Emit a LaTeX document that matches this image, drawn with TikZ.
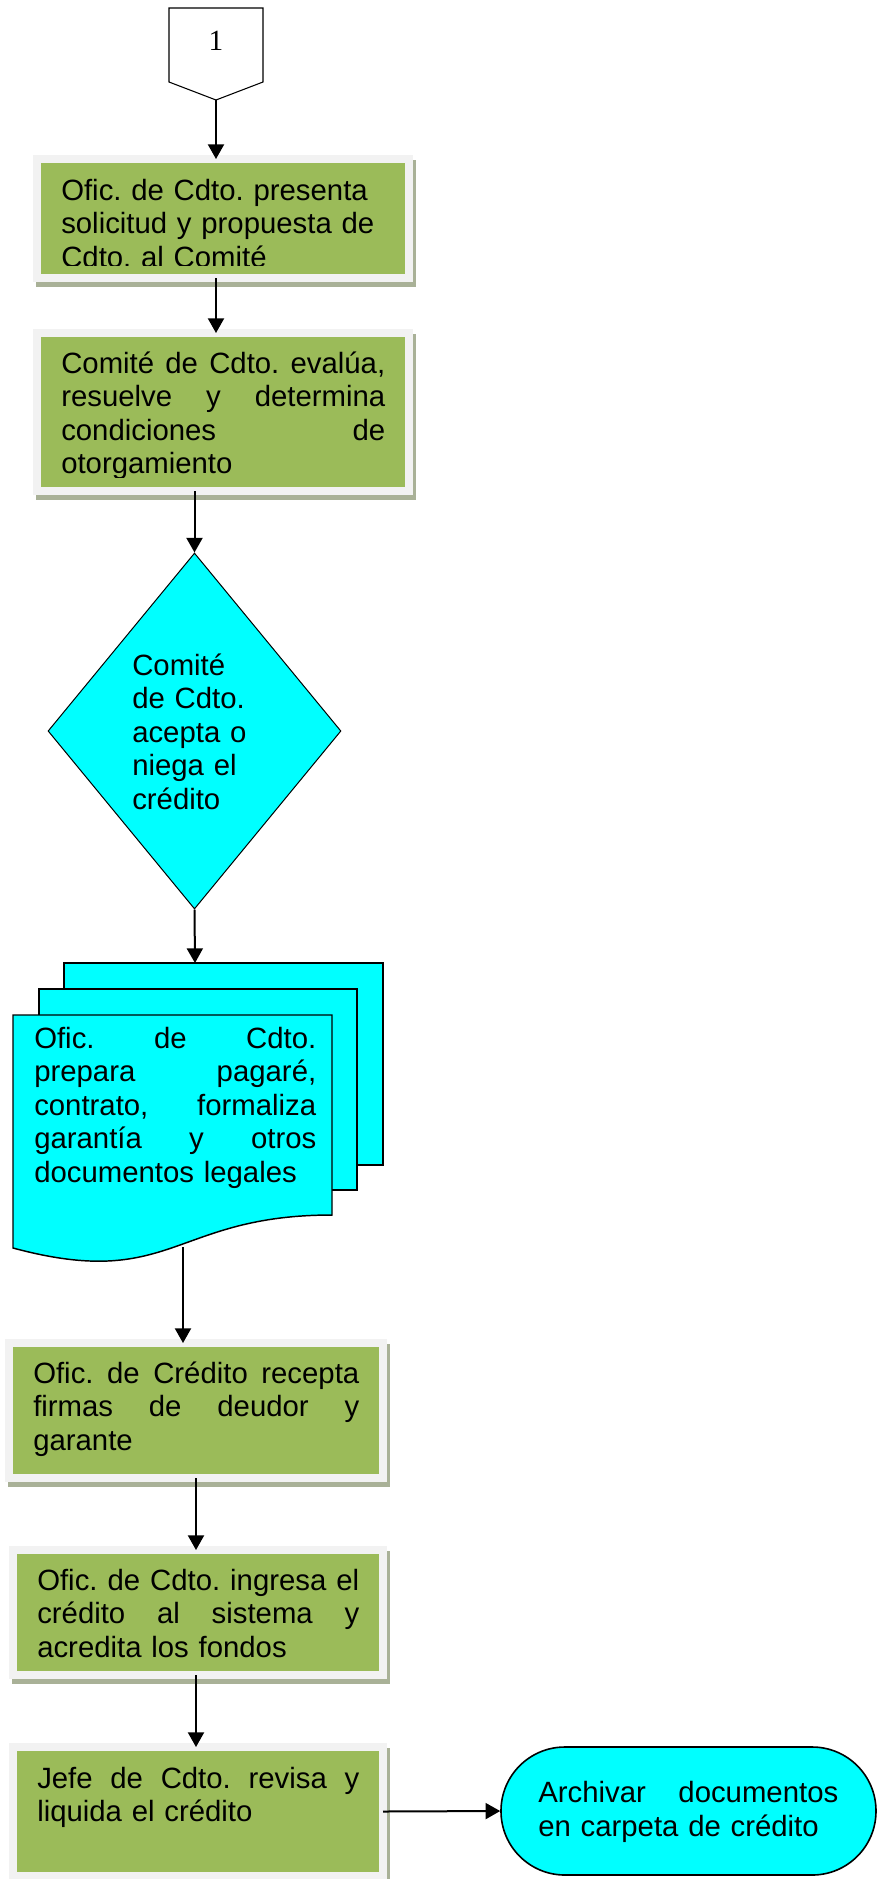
\documentclass[tikz,border=0pt]{standalone}
\usepackage{fontspec}
\setmainfont{Liberation Sans}
\newfontfamily\numfont{Liberation Serif}
\usetikzlibrary{arrows.meta,shapes.geometric,backgrounds,calc}
\definecolor{boxgreen}{HTML}{9BBB59}
\definecolor{boxframe}{HTML}{F2F2F2}
\definecolor{boxshadow}{HTML}{A9B197}
\definecolor{cyanfill}{HTML}{00FFFF}
\newcommand\jsp{\hfill}
\frenchspacing
\begin{document}
\begin{tikzpicture}[x=0.75pt,y=-0.75pt,
  font=\fontsize{22pt}{25.2pt}\selectfont\frenchspacing,
  procbox/.style={rectangle, fill=boxgreen, draw=boxframe, line width=6pt, inner sep=0pt, outer sep=0pt},
  txt/.style={anchor=base west, inner sep=0pt},
  arr/.style={line width=1.5pt, -{Triangle[length=11pt,width=12pt]}},
  docpage/.style={fill=cyanfill, draw=black, line width=1.1pt, line join=miter}]
\useasboundingbox (0,0) rectangle (881,1879);

% off-page connector
\draw[line width=0.8pt, fill=white] (169,8) -- (263,8) -- (263,82) -- (216,100) -- (169,82) -- cycle;
\coordinate (conn) at (216,100);
\node[inner sep=0pt, anchor=base, font=\numfont\fontsize{22pt}{25pt}\selectfont] (connlabel) at (216,50) {1};

% process boxes
\node[procbox, minimum width=279pt, minimum height=89.25pt] (b1) at (223,218.5) {};
\node[procbox, minimum width=279pt, minimum height=118.5pt] (b2) at (223,412) {};
\node[procbox, minimum width=280.5pt, minimum height=101.25pt] (b3) at (196,1410.5) {};
\node[procbox, minimum width=277.5pt, minimum height=93.75pt] (b4) at (198,1612.5) {};
\node[procbox, minimum width=277.5pt, minimum height=96.75pt] (b5) at (198,1811.5) {};

\begin{scope}[on background layer]
\foreach \b in {b1,b2,b3,b4,b5}
  \fill[boxshadow] ([shift={(-1,1)}]\b.north west) rectangle ([shift={(7,9)}]\b.south east);
\end{scope}

\begin{scope}
\clip (41,163) rectangle (405,265);
\node[txt, text width=243pt] (t1) at (61,200) {Ofic. de Cdto. presenta\\solicitud y propuesta de\\Cdto. al Comité};
\end{scope}
\begin{scope}
\clip (41,337) rectangle (405,477);
\node[txt, text width=243pt] (t2) at (61,373) {Comité\jsp de\jsp Cdto.\jsp evalúa,\\resuelve\jsp y\jsp determina\\condiciones\jsp de\\otorgamiento};
\end{scope}

% decision
\node[diamond, fill=cyanfill, draw=black, line width=0.75pt, inner sep=0pt,
      minimum width=219.75pt, minimum height=267pt] (dia) at (194.5,731) {};
\node[txt, text width=100pt] (tdia) at (132,675) {Comité\\de Cdto.\\acepta o\\niega el\\crédito};

% multidocument
\draw[docpage] (64,963) rectangle (383,1165);
\draw[docpage] (39,989) rectangle (357,1190);
\draw[docpage] (13,1015) -- (332,1015) -- (332,1215) .. controls (172.5,1215) and (172.5,1291) .. (13,1248) -- cycle;
\coordinate (doctop) at (195,963);
\coordinate (docbot) at (183,1247);
\node[txt, text width=211.5pt] (tdoc) at (34,1048) {Ofic.\jsp de\jsp Cdto.\\prepara\jsp pagaré,\\contrato,\jsp formaliza\\garantía\jsp y\jsp otros\\documentos legales};

% texts of lower boxes
\node[txt, text width=244.5pt] (t3) at (33,1383) {Ofic.\jsp de\jsp Crédito\jsp recepta\\firmas\jsp de\jsp deudor\jsp y\\garante};
\node[txt, text width=241.5pt] (t4) at (37,1590) {Ofic.\jsp de\jsp Cdto.\jsp ingresa\jsp el\\crédito\jsp al\jsp sistema\jsp y\\acredita los fondos};
\node[txt, text width=241.5pt] (t5) at (37,1788) {Jefe\jsp de\jsp Cdto.\jsp revisa\jsp y\\liquida el crédito};

% terminator
\node[rectangle, rounded corners=47.9pt, fill=cyanfill, draw=black, line width=1.2pt, inner sep=0pt,
      minimum width=281.25pt, minimum height=96pt] (term) at (688.5,1811) {};
\node[txt, text width=225pt, font=\fontsize{22pt}{26pt}\selectfont\frenchspacing] (tterm) at (538,1802) {Archivar\jsp documentos\\en carpeta de crédito};

% connectors
\draw[arr] (conn) -- (conn |- b1.north);
\draw[arr] (conn |- b1.south) -- (conn |- b2.north);
\draw[arr] (dia.north |- b2.south) -- (dia.north);
\draw[arr] (dia.south) -- (doctop);
\draw[arr] (docbot) -- (docbot |- b3.north);
\draw[arr] (b3.south) -- (b3.south |- b4.north);
\draw[arr] (b3.south |- b4.south) -- (b3.south |- b5.north);
\draw[arr] (b5.east) -- (term.west);
\end{tikzpicture}
\end{document}
